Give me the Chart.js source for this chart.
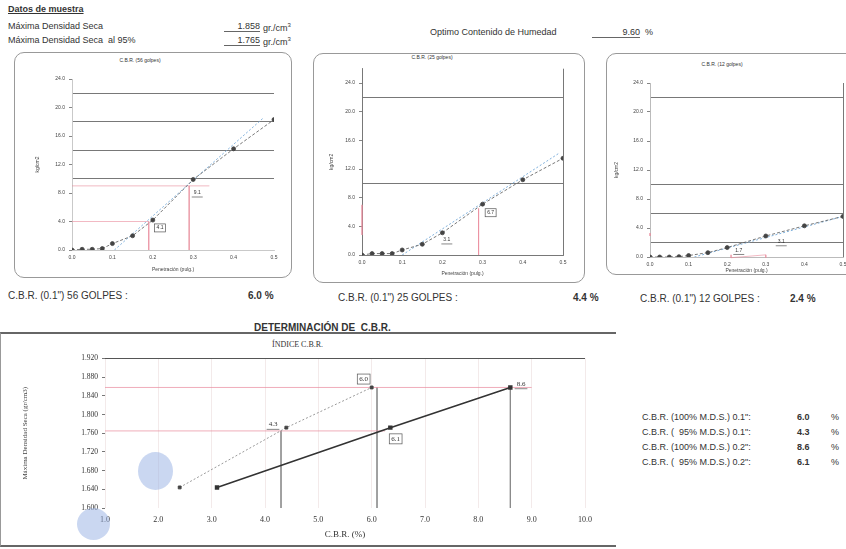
<!DOCTYPE html>
<html>
<head>
<meta charset="utf-8">
<script src="https://cdn.jsdelivr.net/npm/chart.js@4.4.1/dist/chart.umd.min.js"></script>
<style>
  body { margin: 0; width: 846px; height: 549px; overflow: hidden; background: #fff; position: relative;
         font-family: "Liberation Sans", Arial, sans-serif; color: #333; }
  .t { position: absolute; white-space: nowrap; line-height: 1; font-size: 9px; }
  .c { transform: translate(-50%, -50%); }
  .frame { position: absolute; border: 1px solid #999; border-radius: 10px; }
  canvas { position: absolute; }
  .blob { position: absolute; border-radius: 50%; background: rgba(150, 175, 228, 0.5); }
</style>
</head>
<body>

<!-- header -->
<div class="t" style="left:8px;top:5px;font-weight:bold;text-decoration:underline">Datos de muestra</div>
<div class="t" style="left:8px;top:22px">Máxima Densidad Seca</div>
<div class="t" style="left:8px;top:36px">Máxima Densidad Seca&nbsp; al 95%</div>
<div class="t" style="left:224px;top:22px;width:36px;text-align:right;border-bottom:1px solid #666">1.858</div>
<div class="t" style="left:263px;top:22px">gr./cm<sup style="font-size:6px">3</sup></div>
<div class="t" style="left:224px;top:36px;width:36px;text-align:right;border-bottom:1px solid #666">1.765</div>
<div class="t" style="left:263px;top:36px">gr./cm<sup style="font-size:6px">3</sup></div>
<div class="t" style="left:430px;top:28px">Optimo Contenido de Humedad</div>
<div class="t" style="left:592px;top:28px;width:48px;text-align:right;border-bottom:1px solid #666">9.60</div>
<div class="t" style="left:645px;top:28px">%</div>

<!-- frames -->
<div class="frame" style="left:14px;top:52px;width:276px;height:224px"></div>
<div class="frame" style="left:313px;top:53px;width:270px;height:228px"></div>
<div class="frame" style="left:606px;top:53px;width:260px;height:220px"></div>
<div style="position:absolute;left:0;top:332px;width:615px;height:211px;border-top:2px solid #666;border-bottom:2px solid #666;border-left:1px solid #999"></div>

<canvas id="c56"></canvas>
<canvas id="c25"></canvas>
<canvas id="c12"></canvas>
<canvas id="cIdx"></canvas>

<!-- small chart titles -->
<div class="t c" style="left:140px;top:60px;font-size:5px">C.B.R. (56 golpes)</div>
<div class="t c" style="left:432px;top:57px;font-size:5px">C.B.R. (25 golpes)</div>
<div class="t c" style="left:722px;top:64px;font-size:5px">C.B.R. (12 golpes)</div>
<div class="t" style="left:272px;top:341px;font-size:8px;font-family:'Liberation Serif',serif">ÍNDICE C.B.R.</div>

<!-- results -->
<div class="t" style="left:8px;top:291px;font-size:10px">C.B.R. (0.1") 56 GOLPES :</div>
<div class="t" style="left:248px;top:291px;font-size:10px;font-weight:bold">6.0 %</div>
<div class="t" style="left:338px;top:293px;font-size:10px">C.B.R. (0.1") 25 GOLPES :</div>
<div class="t" style="left:573px;top:293px;font-size:10px;font-weight:bold">4.4 %</div>
<div class="t" style="left:640px;top:294px;font-size:10px">C.B.R. (0.1") 12 GOLPES :</div>
<div class="t" style="left:790px;top:294px;font-size:10px;font-weight:bold">2.4 %</div>
<div class="t" style="left:254px;top:323px;font-size:10px;font-weight:bold">DETERMINACIÓN DE&nbsp; C.B.R.</div>

<div class="t" style="left:642px;top:413px">C.B.R. (100% M.D.S.) 0.1":</div>
<div class="t" style="left:797px;top:413px;font-weight:bold">6.0</div>
<div class="t" style="left:831px;top:413px">%</div>
<div class="t" style="left:642px;top:428px">C.B.R. (&nbsp; 95% M.D.S.) 0.1":</div>
<div class="t" style="left:797px;top:428px;font-weight:bold">4.3</div>
<div class="t" style="left:831px;top:428px">%</div>
<div class="t" style="left:642px;top:443px">C.B.R. (100% M.D.S.) 0.2":</div>
<div class="t" style="left:797px;top:443px;font-weight:bold">8.6</div>
<div class="t" style="left:831px;top:443px">%</div>
<div class="t" style="left:642px;top:458px">C.B.R. (&nbsp; 95% M.D.S.) 0.2":</div>
<div class="t" style="left:797px;top:458px;font-weight:bold">6.1</div>
<div class="t" style="left:831px;top:458px">%</div>

<div class="blob" style="left:138px;top:452px;width:35px;height:38px"></div>
<div class="blob" style="left:77px;top:508px;width:33px;height:32px"></div>

<script>
// penetration curves (pulg. vs kg/cm2)
const penetration = [0, 0.025, 0.05, 0.075, 0.1, 0.15, 0.2, 0.3, 0.4, 0.5];
const load56 = [0, 0.1, 0.1, 0.2, 0.9, 2.0, 4.2, 9.9, 14.2, 18.3];
const load25 = [0, 0.2, 0.2, 0.2, 0.7, 1.5, 3.1, 7.1, 10.5, 13.5];
const load12 = [0, 0, 0, 0.05, 0.2, 0.6, 1.3, 2.9, 4.3, 5.6];

// corrected (tangent) lines
const corrX56 = [0.105, 0.475], corrY56 = [0, 18.6];
const corrX25 = [0.1, 0.49], corrY25 = [0, 14.2];
const corrX12 = [0.115, 0.5], corrY12 = [0, 5.6];

// horizontal reference lines in each plot
const refLines56 = [10, 14, 18, 22];
const refLines25 = [10, 22];
const refLines12 = [2, 6, 10, 22];

// red reading lines (null = break)
const guideX56 = [0, 0.19, 0.19, 0, 0, 0.34, 0, 0.29, 0.29];
const guideY56 = [4.0, 4.0, 0, null, 9.0, 9.0, null, 9.0, 0];
const guideX25 = [0.29, 0.29, 0, 0, 0];
const guideY25 = [6.5, 0, null, 7.0, 2.8];
const guideX12 = [0, 0, 0, 0.21, 0.21, 0.3, 0.3];
const guideY12 = [3.3, 2.9, null, 0.3, -0.1, 0.3, -0.1];

const loadTicks = [0, 4, 8, 12, 16, 20, 24];

// CBR index chart
const densities = [1.644, 1.772, 1.858];
const cbr01 = [2.4, 4.4, 6.0];
const cbr02 = [3.1, 6.35, 8.6];
const mdd = 1.858, mdd95 = 1.765;
const cbr100_01 = 6.0, cbr95_01 = 4.3, cbr100_02 = 8.6, cbr95_02 = 6.1;

const pts = (xs, ys) => xs.map((x, i) => ({ x: x, y: ys[i] }));

const notePlugin = {
  id: 'notes',
  afterDatasetsDraw(chart, args, opts) {
    const ctx = chart.ctx, xs = chart.scales.x, ys = chart.scales.y;
    ctx.save();
    ctx.font = opts.font;
    ctx.fillStyle = '#333';
    ctx.strokeStyle = '#555';
    ctx.lineWidth = 0.7;
    ctx.textAlign = 'center';
    ctx.textBaseline = 'middle';
    (opts.items || []).forEach(n => {
      const px = xs.getPixelForValue(n.x), py = ys.getPixelForValue(n.y);
      ctx.fillText(n.text, px, py);
      const w = ctx.measureText(n.text).width + 4, h = opts.size + 3;
      if (n.box) ctx.strokeRect(px - w / 2, py - h / 2, w, h);
      else { ctx.beginPath(); ctx.moveTo(px - w / 2, py + h / 2); ctx.lineTo(px + w / 2, py + h / 2); ctx.stroke(); }
    });
    ctx.restore();
  }
};

function place(id, L, T, R, B, yw, xh) {
  const c = document.getElementById(id);
  const top = Math.floor(T) - 8;
  c.style.left = (L - yw) + 'px';
  c.style.top = top + 'px';
  c.width = yw + (R - L) + 14;
  c.height = (B - top) + xh;
  return { top: T - top, right: 14, left: 0, bottom: 0 };
}

function penChart(id, g, loads, corr, refs, guide, notes, opt) {
  const pad = place(id, g.L, g.T, g.R, g.B, g.yw, g.xh);
  return new Chart(document.getElementById(id), {
    type: 'scatter',
    data: {
      datasets: [
        { data: pts(penetration, loads), showLine: true, borderColor: '#555', borderWidth: 0.8, borderDash: [3, 2],
          pointRadius: 2, pointBackgroundColor: '#444', pointBorderColor: '#444' },
        { data: pts(corr[0], corr[1]), showLine: true, borderColor: '#7fb0dc', borderWidth: 1, borderDash: [2, 2], pointRadius: 0 },
        { data: pts(guide[0], guide[1]), showLine: true, borderColor: '#ea8a9a', borderWidth: 0.6, pointRadius: 0, clip: 4 }
      ]
    },
    options: {
      responsive: false,
      animation: false,
      layout: { padding: pad },
      plugins: {
        legend: { display: false },
        tooltip: { enabled: false },
        notes: { items: notes, font: '5px "Liberation Sans"', size: 5 }
      },
      scales: {
        x: {
          type: 'linear', min: 0, max: 0.5,
          ticks: { stepSize: 0.1, padding: 5, color: '#444', font: { size: 5 }, callback: v => v.toFixed(1) },
          grid: { drawTicks: false, lineWidth: 0.8,
                  color: c => (opt.rightLine && Math.abs(c.tick.value - 0.5) < 1e-6) ? '#555' : 'transparent' },
          border: { color: opt.axis, width: 0.8 },
          title: { display: true, text: 'Penetración (pulg.)', color: '#444', font: { size: 5 }, padding: { top: 2, bottom: 4 } },
          afterFit: s => { s.height = g.xh; }
        },
        y: {
          min: 0, max: g.ymax,
          ticks: { stepSize: 2, autoSkip: false, padding: 4, color: '#444', font: { size: 5 },
                   callback: v => loadTicks.includes(v) ? v.toFixed(1) : '' },
          grid: { lineWidth: 0.8, tickLength: 3,
                  color: c => refs.includes(c.tick.value) ? '#555' : 'transparent',
                  tickColor: c => loadTicks.includes(c.tick.value) ? '#666' : 'transparent' },
          border: { color: opt.axis, width: 0.8 },
          title: { display: true, text: 'kg/cm2', color: '#444', font: { size: 5 }, padding: 2 },
          afterFit: s => { s.width = g.yw; }
        }
      }
    },
    plugins: [notePlugin]
  });
}

penChart('c56', { L: 72, R: 274, T: 79, B: 250, ymax: 24, yw: 39, xh: 27 },
  load56, [corrX56, corrY56], refLines56, [guideX56, guideY56],
  [{ x: 0.218, y: 3.1, text: '4.1', box: true }, { x: 0.31, y: 8.0, text: '9.1' }],
  { axis: '#bbb', rightLine: false });

penChart('c25', { L: 362, R: 563, T: 68.7, B: 255, ymax: 26, yw: 35, xh: 26 },
  load25, [corrX25, corrY25], refLines25, [guideX25, guideY25],
  [{ x: 0.211, y: 2.1, text: '3.1' }, { x: 0.32, y: 5.9, text: '6.7', box: true }],
  { axis: '#555', rightLine: true });

penChart('c12', { L: 650, R: 843, T: 83, B: 257, ymax: 24, yw: 38, xh: 21 },
  load12, [corrX12, corrY12], refLines12, [guideX12, guideY12],
  [{ x: 0.23, y: 0.9, text: '1.7' }, { x: 0.34, y: 2.1, text: '3.1' }],
  { axis: '#aaa', rightLine: true });

// CBR index: density vs CBR
const padIdx = place('cIdx', 105, 358, 585, 508, 88, 36);
new Chart(document.getElementById('cIdx'), {
  type: 'scatter',
  data: {
    datasets: [
      { data: pts(cbr01, densities), showLine: true, borderColor: '#999', borderWidth: 1, borderDash: [2, 2],
        pointStyle: 'rect', pointRadius: 2, pointBackgroundColor: '#444', pointBorderColor: '#444' },
      { data: pts(cbr02, densities), showLine: true, borderColor: '#333', borderWidth: 1.6,
        pointStyle: 'rect', pointRadius: 2, pointBackgroundColor: '#333', pointBorderColor: '#333' },
      { data: [{ x: 1, y: mdd }, { x: 9, y: mdd }, { x: 1, y: null }, { x: 1, y: mdd95 }, { x: 6.25, y: mdd95 }],
        showLine: true, borderColor: '#e88a9c', borderWidth: 0.7, pointRadius: 0 },
      { data: [{ x: cbr95_01, y: mdd95 }, { x: cbr95_01, y: 1.6 }, { x: 0, y: null },
               { x: cbr95_02, y: mdd }, { x: cbr95_02, y: 1.6 }, { x: 0, y: null },
               { x: cbr100_02, y: mdd }, { x: cbr100_02, y: 1.6 }],
        showLine: true, borderColor: '#888', borderWidth: 0.8, pointRadius: 0 }
    ]
  },
  options: {
    responsive: false,
    animation: false,
    layout: { padding: padIdx },
    plugins: {
      legend: { display: false },
      tooltip: { enabled: false },
      notes: {
        font: '7px "Liberation Serif"', size: 7,
        items: [
          { x: 5.85, y: 1.876, text: cbr100_01.toFixed(1), box: true },
          { x: 4.15, y: 1.779, text: cbr95_01.toFixed(1) },
          { x: 8.8, y: 1.866, text: cbr100_02.toFixed(1) },
          { x: 6.45, y: 1.748, text: cbr95_02.toFixed(1), box: true }
        ]
      }
    },
    scales: {
      x: {
        type: 'linear', min: 1, max: 10,
        ticks: { stepSize: 1, padding: 4, color: '#333', font: { family: 'Liberation Serif', size: 8 }, callback: v => v.toFixed(1) },
        grid: { color: 'rgba(210,180,180,0.35)', lineWidth: 0.8, tickLength: 3, tickColor: 'transparent' },
        border: { display: false },
        title: { display: true, text: 'C.B.R. (%)', color: '#333', font: { family: 'Liberation Serif', size: 9 }, padding: { top: 2, bottom: 4 } },
        afterFit: s => { s.height = 36; }
      },
      y: {
        min: 1.6, max: 1.92,
        ticks: { stepSize: 0.04, padding: 4, color: '#333', font: { family: 'Liberation Serif', size: 7.5 }, callback: v => v.toFixed(3) },
        grid: { lineWidth: 1, tickLength: 3, tickColor: '#777',
                color: c => Math.abs(c.tick.value - 1.92) < 1e-6 ? '#555' : 'transparent' },
        border: { display: false },
        title: { display: true, text: 'Máxima Densidad Seca (gr/cm3)', color: '#444', font: { family: 'Liberation Serif', size: 7 }, padding: 4 },
        afterFit: s => { s.width = 88; }
      }
    }
  },
  plugins: [notePlugin]
});
</script>
</body>
</html>
